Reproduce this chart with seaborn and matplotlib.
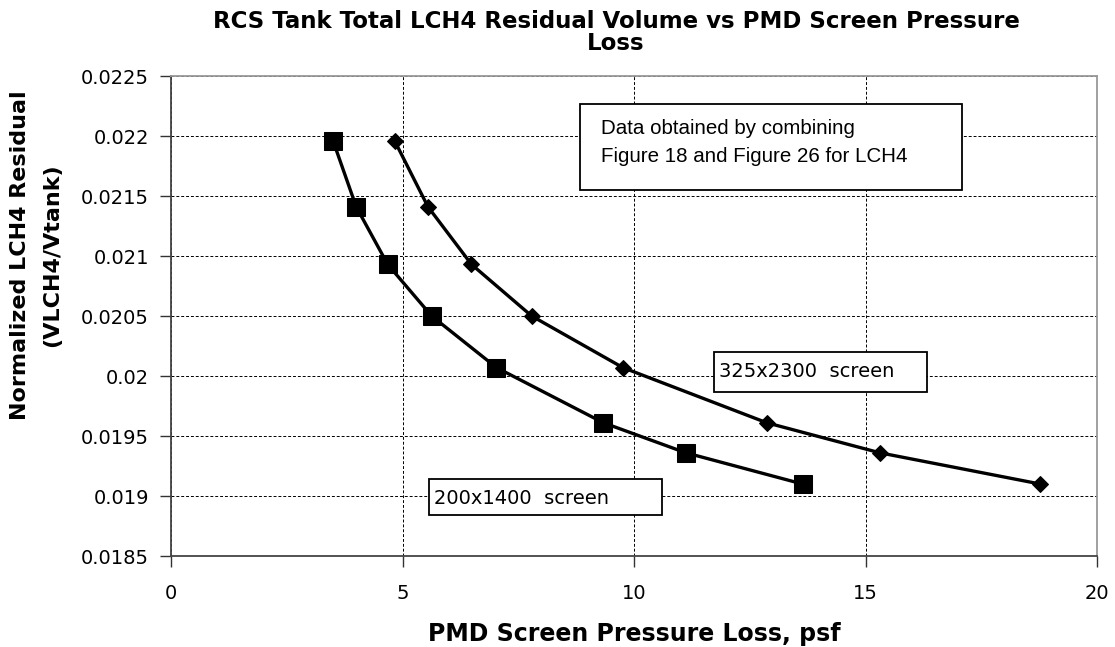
import matplotlib
matplotlib.use("Agg")
import matplotlib.pyplot as plt
import seaborn as sns
import pandas as pd
from matplotlib.patches import Rectangle

# Screen pressure loss (psf) and normalized residual for both screens
residual = [0.02196, 0.02141, 0.02093, 0.02050, 0.02007, 0.01961, 0.01936, 0.01910]
loss_200x1400 = [3.50, 4.00, 4.68, 5.63, 7.03, 9.34, 11.12, 13.64]
loss_325x2300 = [4.83, 5.55, 6.49, 7.79, 9.76, 12.87, 15.31, 18.77]

screens = ['200x1400 screen', '325x2300 screen']
y_ticks = [0.0185, 0.019, 0.0195, 0.02, 0.0205, 0.021, 0.0215, 0.022, 0.0225]
y_tick_labels = ['0.0185', '0.019', '0.0195', '0.02', '0.0205', '0.021', '0.0215', '0.022', '0.0225']
x_ticks = [0, 5, 10, 15, 20]

df = pd.DataFrame({
    'Loss': loss_200x1400 + loss_325x2300,
    'Residual': residual + residual,
    'Screen': [screens[0]] * len(loss_200x1400) + [screens[1]] * len(loss_325x2300),
})

sns.set_style('white')
plt.rcParams['font.family'] = ['DejaVu Sans']
plt.rcParams['text.color'] = 'black'

W, H = 1115, 647
fig = plt.figure(figsize=(W / 100, H / 100), dpi=100)
ax = fig.add_axes([171 / W, 1 - 556 / H, (1097 - 171) / W, (556 - 76) / H])

for name, marker, size in [(screens[0], 's', 13), (screens[1], 'D', 8)]:
    sub = df[df['Screen'] == name]
    sns.lineplot(data=sub, x='Loss', y='Residual', ax=ax, color='black',
                 marker=marker, markersize=size, linewidth=2.4,
                 markeredgecolor='black', sort=False, legend=False)

ax.set_xlim(0, 20)
ax.set_ylim(0.0185, 0.0225)
ax.set_xticks(x_ticks)
ax.set_yticks(y_ticks)
ax.set_yticklabels(y_tick_labels)
ax.tick_params(axis='both', direction='out', length=8, width=1, labelsize=14,
               color='#333333', labelcolor='black', bottom=True, left=True)
ax.tick_params(axis='y', pad=8)
ax.tick_params(axis='x', pad=12.5)
ax.grid(True, color='black', linestyle=(0, (3, 2)), linewidth=0.7)
for side in ['top', 'right']:
    ax.spines[side].set_color('#999999')
for side in ['left', 'bottom']:
    ax.spines[side].set_color('#444444')
for sp in ax.spines.values():
    sp.set_linewidth(1.3)
ax.set_xlabel('')
ax.set_ylabel('')

# titles and axis labels
fig.text(616 / W, 1 - 22 / H, 'RCS Tank Total LCH4 Residual Volume vs PMD Screen Pressure',
         fontsize=16.5, fontweight='bold', ha='center', va='center')
fig.text(616 / W, 1 - 44 / H, 'Loss', fontsize=16.5, fontweight='bold', ha='center', va='center')
fig.text(634 / W, 1 - 634 / H, 'PMD Screen Pressure Loss, psf', fontsize=17,
         fontweight='bold', ha='center', va='center')
fig.text(20 / W, 1 - 255 / H, 'Normalized LCH4 Residual', fontsize=16,
         fontweight='bold', ha='center', va='center', rotation=90)
fig.text(52 / W, 1 - 255 / H, '(VLCH4/Vtank)', fontsize=16,
         fontweight='bold', ha='center', va='center', rotation=90)


def boxed(x0, y0, x1, y1, tx, ty, text, **kw):
    fig.patches.append(Rectangle((x0 / W, 1 - y1 / H), (x1 - x0) / W, (y1 - y0) / H,
                                 transform=fig.transFigure, facecolor='white',
                                 edgecolor='black', linewidth=1.3, zorder=5))
    fig.text(tx / W, 1 - ty / H, text, ha='left', va='center', zorder=6, **kw)


boxed(580, 104, 962, 190, 601, 142.5,
      'Data obtained by combining\nFigure 18 and Figure 26 for LCH4',
      fontsize=14.8, family='Liberation Sans', linespacing=1.6)
boxed(714, 352, 927, 392, 719, 371, '325x2300  screen', fontsize=14)
boxed(429, 479, 662, 515, 434, 498, '200x1400  screen', fontsize=14)

fig.savefig('out.png', dpi=100)
